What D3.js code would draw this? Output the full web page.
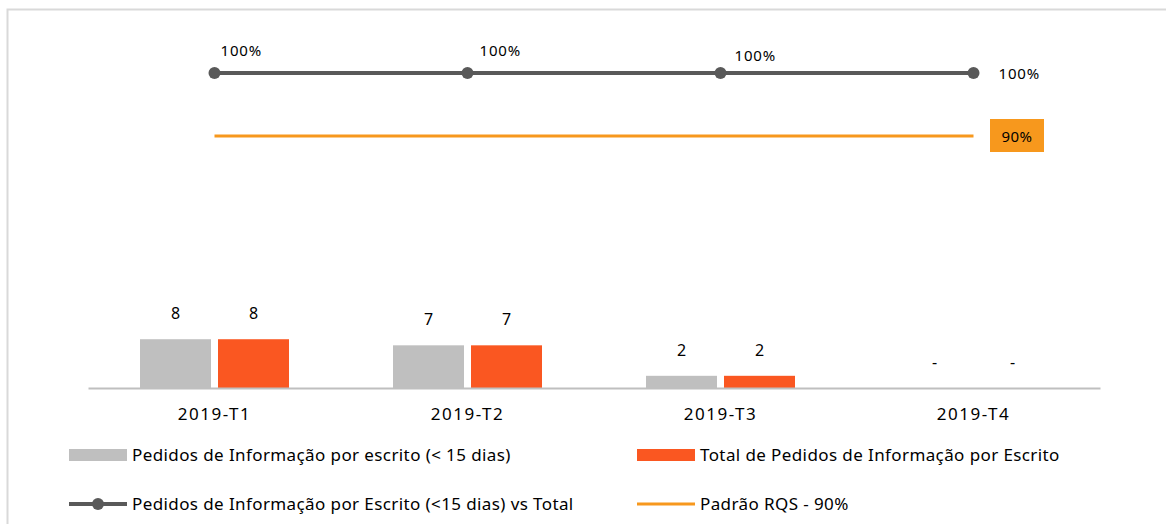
<!DOCTYPE html>
<html>
<head>
<meta charset="utf-8">
<script src="https://cdn.jsdelivr.net/npm/d3@7"></script>
<style>
  html, body { margin: 0; padding: 0; background: #fff; }
  svg { display: block; font-family: "Noto Sans", "Liberation Sans", sans-serif; }
</style>
</head>
<body>
<svg id="chart" width="1166" height="524"></svg>
<script>
const categories = ["2019-T1", "2019-T2", "2019-T3", "2019-T4"];
const seriesWithin15 = [8, 7, 2, 0];
const seriesTotal = [8, 7, 2, 0];
const ratioSeries = [1.0, 1.0, 1.0, 1.0];
const standardValue = 0.9;
const seriesNames = [
  "Pedidos de Informação por escrito (< 15 dias)",
  "Total de Pedidos de Informação por Escrito",
  "Pedidos de Informação por Escrito (<15 dias) vs Total",
  "Padrão RQS - 90%"
];

const svg = d3.select("#chart");
const plot = { left: 88, right: 1100, top: 10, bottom: 388 };
const colors = { gray: "#BFBFBF", red: "#FA5721", line: "#595959", std: "#F7981D", text: "#000" };

// outer border
svg.append("rect").attr("x", 7.5).attr("y", 9.5).attr("width", 1200).attr("height", 600)
  .attr("fill", "none").attr("stroke", "#D9D9D9").attr("stroke-width", 2);

const x = d3.scaleBand().domain(categories).range([plot.left, plot.right]).paddingInner(0).paddingOuter(0);
const yBar = d3.scaleLinear().domain([0, 62]).range([plot.bottom, plot.top]);
const yPct = d3.scaleLinear().domain([0.5, 1.1]).range([plot.bottom, plot.top]);

const barW = 71, gap = 7;

// bars
const g = svg.append("g");
categories.forEach((c, i) => {
  const cx = x(c) + x.bandwidth() / 2;
  const pairs = [
    { v: seriesWithin15[i], col: colors.gray, x0: cx - gap / 2 - barW },
    { v: seriesTotal[i], col: colors.red, x0: cx + gap / 2 }
  ];
  pairs.forEach(p => {
    g.append("rect").attr("x", p.x0).attr("y", yBar(p.v)).attr("width", barW)
      .attr("height", yBar(0) - yBar(p.v)).attr("fill", p.col);
    g.append("text").attr("x", p.x0 + barW / 2).attr("y", yBar(p.v) - 20)
      .attr("text-anchor", "middle").attr("font-size", 16).attr("fill", colors.text)
      .text(p.v === 0 ? "-" : p.v);
  });
});

// axis
const xAxis = svg.append("g").attr("transform", `translate(0,${plot.bottom})`)
  .call(d3.axisBottom(x).tickSize(0).tickPadding(20));
xAxis.select(".domain").attr("stroke", "#BFBFBF").attr("stroke-width", 2);
xAxis.selectAll("text").attr("font-size", 17).attr("letter-spacing", 1.5).attr("fill", colors.text)
  .attr("font-family", "Noto Sans, Liberation Sans, sans-serif");

// standard line
const cxs = categories.map(c => x(c) + x.bandwidth() / 2);
svg.append("line").attr("x1", cxs[0]).attr("x2", cxs[3])
  .attr("y1", yPct(standardValue)).attr("y2", yPct(standardValue))
  .attr("stroke", colors.std).attr("stroke-width", 3);
svg.append("rect").attr("x", 990).attr("y", yPct(standardValue) - 17).attr("width", 54).attr("height", 33)
  .attr("fill", colors.std);
svg.append("text").attr("x", 1017).attr("y", yPct(standardValue) + 6).attr("text-anchor", "middle")
  .attr("font-size", 15).attr("letter-spacing", 0.5).attr("fill", colors.text).text(Math.round(standardValue * 100) + "%");

// ratio line
const line = d3.line().x((d, i) => cxs[i]).y(d => yPct(d));
svg.append("path").datum(ratioSeries).attr("d", line).attr("fill", "none")
  .attr("stroke", colors.line).attr("stroke-width", 4);
svg.selectAll(".pt").data(ratioSeries).join("circle").attr("cx", (d, i) => cxs[i]).attr("cy", d => yPct(d))
  .attr("r", 6).attr("fill", colors.line);
const lblOff = [[6, -17], [12, -17], [14, -12], [25, 6]];
ratioSeries.forEach((d, i) => {
  svg.append("text").attr("x", cxs[i] + lblOff[i][0]).attr("y", yPct(d) + lblOff[i][1])
    .attr("font-size", 15).attr("letter-spacing", 0.8).attr("fill", colors.text).text(Math.round(d * 100) + "%");
});

// legend
const leg = svg.append("g").attr("font-size", 17).attr("letter-spacing", 0.4).attr("fill", "#000");
const legItems = [
  { x: 69, y: 455, type: "bar", col: colors.gray, name: seriesNames[0] },
  { x: 637, y: 455, type: "bar", col: colors.red, name: seriesNames[1] },
  { x: 69, y: 504, type: "marker", col: colors.line, name: seriesNames[2] },
  { x: 637, y: 504, type: "line", col: colors.std, name: seriesNames[3] }
];
legItems.forEach(it => {
  if (it.type === "bar") {
    leg.append("rect").attr("x", it.x).attr("y", it.y - 6).attr("width", 58).attr("height", 12).attr("fill", it.col);
  } else {
    leg.append("line").attr("x1", it.x).attr("x2", it.x + 58).attr("y1", it.y).attr("y2", it.y)
      .attr("stroke", it.col).attr("stroke-width", it.type === "marker" ? 4 : 3);
    if (it.type === "marker") leg.append("circle").attr("cx", it.x + 29).attr("cy", it.y).attr("r", 6).attr("fill", it.col);
  }
  leg.append("text").attr("x", it.x + 63).attr("y", it.y + 6).text(it.name);
});
</script>
</body>
</html>
